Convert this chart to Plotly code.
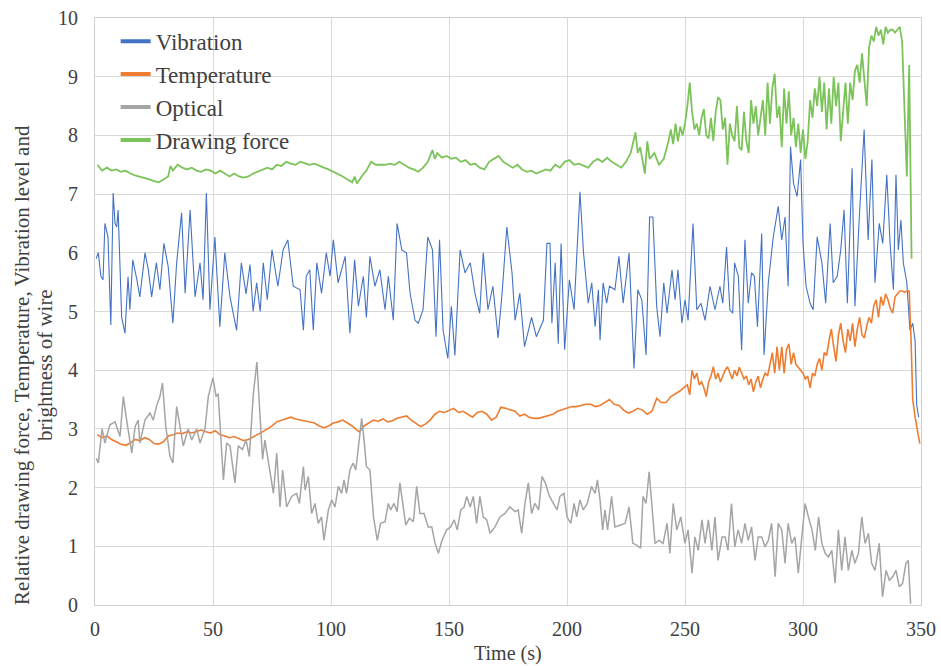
import plotly.graph_objects as go

# ---------------- data ----------------
vib_t = [0.5, 1.4, 2.5, 3.4, 4.2, 5.5, 6.7, 7.7, 8.5, 9.2, 9.8, 11.3, 12.7, 14, 14.8, 16, 17.7, 19, 21.2, 22.6,
         24, 26, 27.5, 29.2, 31, 33, 34.6, 36.7, 38.2, 40.3, 42.4, 44.5, 45.8, 47.2, 48.7, 50.8, 52.9, 55, 57.2, 60,
         62, 64, 65.7, 67, 68.5, 70, 71.3, 73, 75, 77.5, 79.7, 81.7, 84, 86.9, 88.3, 89.5, 91, 92.5, 94, 96,
         98, 99.6, 101, 103, 106, 108, 110, 111.6, 113.7, 115, 116.5, 118.6, 120.7, 122.9, 124.3, 126.4, 128, 130, 132, 133.5,
         135.6, 137, 139, 141, 143, 144.5, 146, 147.5, 149.5, 151, 152.5, 154.7, 156.8, 159, 161, 163, 164.5, 166.5, 168.6, 170.8,
         172.5, 174.5, 176.7, 178, 180, 182, 185, 187, 190, 191.5, 192.8, 193.6, 195, 196.3, 197.5, 199, 201, 203, 205.5, 207,
         209, 210.5, 211.9, 213.3, 214, 215.3, 216.8, 218, 220.3, 222, 223.8, 226.3, 228.4, 230, 231.7, 233.5, 235, 236.4, 238, 239.4,
         241, 242.4, 244.5, 245.8, 247, 248.7, 250, 251.3, 253.4, 255, 256.8, 258.5, 260.6, 262.7, 264.8, 266, 267.6, 269, 270.2, 271,
         272.6, 274, 275.4, 276.8, 278.2, 279.4, 280.7, 282.5, 283.5, 285.3, 287.4, 289.5, 291, 292.4, 293.7, 294.7, 296, 297.5, 299, 300,
         301.3, 303, 304.3, 306, 308, 309.6, 311.5, 312.8, 314.5, 316, 317.4, 318.8, 320.8, 322, 323.8, 325.9, 327.6, 329.2, 330.5, 332.3,
         333.8, 335.5, 336.9, 338.3, 339.4, 340.4, 341.5, 342.5, 344, 345.3, 346.5, 347.5, 348.2, 349]
vibration = [5.9, 6.0, 5.6, 5.54, 6.5, 6.27, 4.77, 7.02, 6.5, 6.44, 6.73, 4.9, 4.63, 5.59, 5.03, 5.88, 5.55, 5.25, 6.0, 5.71,
             5.25, 5.83, 5.37, 6.16, 5.77, 4.8, 5.83, 6.68, 5.31, 6.73, 5.25, 5.83, 5.2, 7.02, 5.03, 6.27, 4.74, 6.0, 5.25, 4.68,
             5.83, 5.3, 5.8, 5.0, 5.49, 5.0, 5.83, 5.2, 6.05, 5.43, 6.05, 6.22, 5.43, 5.37, 4.68, 5.6, 5.71, 4.68, 5.83, 5.31,
             6.0, 5.6, 6.22, 5.49, 5.94, 4.63, 5.88, 5.09, 5.6, 4.9, 5.94, 5.43, 5.71, 5.03, 5.6, 4.85, 6.5, 6.05, 6.0, 5.31,
             4.85, 4.8, 5.03, 6.27, 6.05, 4.57, 6.22, 4.68, 4.2, 5.09, 4.25, 6.05, 5.66, 5.83, 5.31, 4.97, 6.0, 5.03, 5.43, 4.55,
             5.31, 6.44, 5.66, 4.85, 5.31, 4.4, 4.9, 4.57, 4.85, 6.16, 6.16, 4.8, 5.83, 4.45, 6.16, 4.35, 5.54, 5.03, 7.04, 6.0,
             5.14, 5.49, 4.74, 5.37, 4.51, 5.49, 5.14, 5.43, 5.37, 5.94, 5.14, 6.0, 4.03, 5.37, 5.2, 4.26, 6.61, 6.61, 5.09, 4.57,
             5.49, 4.97, 5.71, 5.2, 5.71, 4.8, 5.2, 4.85, 6.5, 5.03, 5.14, 4.85, 5.43, 5.03, 5.43, 5.14, 6.1, 5.03, 4.97, 5.83,
             5.6, 4.34, 6.22, 5.14, 5.66, 5.6, 4.74, 6.33, 4.26, 5.49, 6.27, 6.79, 6.22, 6.61, 5.43, 7.81, 7.18, 6.96, 7.59, 6.16,
             5.43, 5.14, 5.03, 6.27, 5.83, 5.14, 6.5, 5.49, 5.6, 6.05, 6.73, 5.14, 7.44, 5.09, 6.56, 8.1, 6.22, 7.59, 5.49, 6.5,
             6.16, 7.33, 6.16, 5.37, 7.33, 6.05, 6.56, 5.83, 5.49, 4.68, 4.8, 4.5, 3.4, 3.2]

temp_t = [1, 3, 5, 7, 9, 11, 13, 15, 17, 19, 21, 23, 25, 27, 29, 31, 33, 35, 37, 39,
          41, 43, 45, 47, 49, 51, 53, 55, 57, 59, 61, 63, 65, 67, 69, 71, 73, 75, 77, 79,
          81, 83, 85, 87, 89, 91, 93, 95, 97, 99, 101, 103, 105, 107, 109, 111, 112, 114, 116, 118,
          120, 122, 124, 126, 128, 130, 132, 134, 136, 138, 140, 142, 144, 146, 148, 150, 152, 154, 156, 158,
          160, 162, 164, 166, 168, 170, 172, 174, 176, 178, 180, 182, 184, 186, 188, 190, 192, 194, 196, 198,
          200, 202, 204, 206, 208, 210, 212, 214, 216, 218, 220, 222, 224, 226, 228, 230, 232, 234, 236, 238,
          240, 242, 244, 246, 248, 250, 251, 252, 253, 254, 255, 256, 257, 258, 259, 260, 261, 262, 263, 264,
          265, 266, 267, 268, 269, 270, 271, 272, 273, 274, 275, 276, 277, 278, 279, 280, 281, 282, 283, 284,
          285, 286, 287, 288, 289, 290, 291, 292, 293, 294, 295, 296, 297, 298, 299, 300, 301, 302, 303, 304,
          305, 306, 307, 308, 309, 310, 311, 312, 313, 314, 315, 316, 317, 318, 319, 320, 321, 322, 323, 324,
          325, 326, 327, 328, 329, 330, 331, 332, 333, 334, 335, 336, 337, 338, 339, 340, 341, 342, 343, 344,
          345, 345.8, 346.5, 347.5, 348.5, 349.5]
temperature = [2.9, 2.85, 2.88, 2.82, 2.78, 2.74, 2.72, 2.76, 2.82, 2.8, 2.85, 2.82, 2.75, 2.74, 2.78, 2.88, 2.9, 2.93, 2.92, 2.95,
               2.93, 2.96, 2.98, 2.95, 2.93, 2.97, 2.9, 2.88, 2.85, 2.87, 2.83, 2.8, 2.82, 2.86, 2.9, 2.95, 3.0, 3.05, 3.12, 3.15,
               3.18, 3.2, 3.17, 3.15, 3.13, 3.12, 3.1, 3.05, 3.02, 3.05, 3.1, 3.12, 3.15, 3.1, 3.05, 2.98, 2.95, 3.05, 3.1, 3.15,
               3.13, 3.17, 3.12, 3.14, 3.18, 3.2, 3.22, 3.15, 3.1, 3.04, 3.08, 3.15, 3.25, 3.3, 3.28, 3.32, 3.35, 3.28, 3.3, 3.25,
               3.2, 3.28, 3.3, 3.25, 3.15, 3.2, 3.37, 3.35, 3.32, 3.3, 3.22, 3.25, 3.2, 3.18, 3.18, 3.2, 3.22, 3.25, 3.3, 3.33,
               3.35, 3.38, 3.38, 3.4, 3.42, 3.42, 3.38, 3.4, 3.45, 3.5, 3.42, 3.4, 3.32, 3.27, 3.3, 3.35, 3.32, 3.25, 3.3, 3.52,
               3.45, 3.45, 3.55, 3.6, 3.65, 3.72, 3.75, 3.58, 4.0, 3.85, 3.95, 3.75, 3.8, 3.7, 3.55, 3.8, 3.9, 4.06, 3.85, 3.95,
               3.8, 3.9, 4.0, 4.06, 3.95, 3.85, 4.0, 3.9, 4.05, 3.95, 3.85, 3.9, 3.75, 3.85, 3.63, 3.8, 3.9, 3.7, 3.85, 3.95,
               3.9, 4.1, 4.3, 3.95, 4.4, 4.0, 4.4, 3.95, 4.35, 4.45, 4.1, 4.3, 4.1, 4.05, 4.0, 3.95, 3.85, 3.9, 3.7, 3.95,
               3.9, 4.1, 4.2, 4.0, 4.3, 4.25, 4.5, 4.7, 4.4, 4.15, 4.6, 4.8, 4.5, 4.3, 4.7, 4.5, 4.8, 4.4, 4.7, 4.9,
               4.6, 4.55, 4.75, 4.9, 4.8, 5.1, 5.2, 4.9, 5.25, 5.1, 5.3, 5.2, 5.05, 4.97, 5.25, 5.3, 5.35, 5.35, 5.33, 5.35,
               5.35, 4.5, 3.5, 3.2, 3.0, 2.75]

opt_t = [0.5, 1.4, 3, 4.2, 6.3, 8.5, 10.6, 12, 13.4, 15.6, 17, 18.3, 19, 21.2, 23.3, 24.7, 26, 27.5, 28.6, 30,
         31.8, 33, 34.6, 36.3, 37.4, 39.5, 41, 43.1, 44.5, 46.6, 48, 50, 51.3, 52.2, 53.6, 54.4, 55.8, 57.2, 59.3, 60.7,
         62.5, 64, 65.4, 67.1, 68.6, 69.9, 71, 72, 74.2, 75.6, 77, 78.4, 79.5, 81.2, 83.3, 85.4, 86.6, 88.3, 89, 90.4,
         91.8, 93.2, 94.6, 96, 97, 98.9, 100.3, 101.7, 103.1, 104.5, 105.5, 106.6, 108, 109.4, 110.5, 112, 113, 114, 115, 116.5,
         118, 119.6, 121, 122.9, 124.3, 125.3, 126.7, 128, 129.2, 130.6, 131.7, 133.2, 134.9, 136.3, 137.7, 139.4, 141.2, 142.7, 144.1, 145.5,
         147, 149, 150.7, 152.2, 153.5, 155, 156.4, 157.5, 159, 160.3, 161.7, 163.1, 164.5, 166, 167.4, 169.5, 171.6, 173.7, 175.8, 178,
         179.3, 180.8, 182.2, 183.6, 185, 186.4, 188, 189.4, 190.8, 192.6, 194.4, 195.8, 197, 198.7, 200, 201.6, 203, 204.1, 205.5, 206.9,
         208.6, 210.4, 211.9, 212.9, 214, 215.1, 216.1, 217.2, 218.9, 220.3, 222.4, 224.6, 226.3, 227.9, 229.5, 231.2, 232.2, 233.5, 234.8, 236,
         237.3, 239, 240.7, 242.4, 243.6, 245, 246.5, 248.2, 250, 251.3, 253, 254.2, 255.6, 257.2, 258.5, 259.9, 261.4, 262.7, 264, 265.7,
         267, 268.2, 269.7, 271.1, 272.5, 274, 275.4, 276.8, 278.2, 279.7, 281, 282.5, 283.9, 285.3, 286.7, 288.2, 289.5, 291, 292.4, 293.7,
         295.2, 296.6, 298, 299.5, 300.9, 302.3, 303.8, 305.2, 306.6, 308, 309.4, 310.8, 312.2, 313.6, 315, 316.4, 317.8, 319.2, 320.7, 322,
         323.5, 324.9, 326.3, 327.7, 329.1, 330.5, 332.3, 333.7, 335.2, 336.6, 338, 339.4, 340.8, 342.2, 343.6, 344.6, 345.6]
optical = [2.5, 2.42, 3.0, 2.76, 3.07, 3.12, 2.87, 3.55, 3.15, 2.59, 3.04, 3.15, 2.76, 3.15, 3.27, 3.15, 3.38, 3.55, 3.78, 3.04,
           2.53, 2.42, 3.38, 3.0, 2.71, 3.0, 2.81, 3.0, 2.76, 3.0, 3.55, 3.87, 3.55, 3.6, 2.71, 2.13, 2.76, 2.71, 2.08, 2.71,
           2.65, 2.81, 2.53, 3.6, 4.14, 3.27, 2.48, 2.81, 2.3, 1.9, 2.59, 1.67, 2.3, 1.67, 1.85, 1.9, 1.73, 2.36, 1.96, 2.19,
           1.56, 1.73, 1.39, 1.5, 1.1, 1.62, 1.79, 1.67, 2.02, 1.9, 2.13, 1.9, 2.3, 2.42, 2.3, 2.87, 3.18, 2.81, 2.36, 2.3,
           1.5, 1.1, 1.39, 1.42, 1.73, 1.62, 1.73, 1.59, 2.08, 1.67, 1.36, 1.48, 1.42, 2.02, 1.56, 1.56, 1.33, 1.33, 1.05, 0.88,
           1.1, 1.28, 1.33, 1.45, 1.28, 1.62, 1.67, 1.85, 1.67, 1.85, 1.39, 1.85, 1.5, 1.45, 1.22, 1.33, 1.5, 1.56, 1.67, 1.59,
           1.62, 1.22, 1.73, 2.08, 1.56, 1.73, 1.62, 2.19, 2.08, 1.85, 1.73, 1.62, 1.85, 1.9, 1.5, 1.39, 1.73, 1.5, 1.79, 1.62,
           1.73, 2.02, 1.9, 2.13, 1.79, 1.28, 1.62, 1.28, 1.85, 1.33, 1.36, 1.39, 1.67, 1.05, 1.02, 0.97, 1.85, 1.73, 2.27, 1.73,
           1.05, 1.1, 1.05, 1.39, 0.88, 1.73, 1.28, 1.5, 1.05, 1.28, 0.54, 1.16, 0.93, 1.45, 1.05, 1.45, 0.93, 1.5, 0.76, 1.16,
           1.16, 0.93, 1.73, 0.99, 1.28, 1.05, 1.39, 1.1, 1.33, 0.76, 1.16, 1.16, 0.99, 1.1, 1.39, 0.48, 1.39, 1.28, 0.71, 1.39,
           1.05, 1.16, 0.54, 1.16, 1.73, 1.5, 1.28, 0.93, 1.5, 1.05, 0.88, 0.82, 0.93, 0.37, 1.28, 0.59, 1.16, 0.59, 0.93, 0.71,
           0.88, 1.5, 1.05, 1.22, 0.71, 0.59, 1.05, 0.14, 0.59, 0.42, 0.48, 0.59, 0.31, 0.37, 0.71, 0.76, 0.02]

force_t = [1, 3, 5, 7, 9, 11, 13, 15, 17, 19, 21, 23, 25, 27, 29, 31, 32, 33, 35, 37,
           39, 41, 43, 45, 47, 49, 51, 53, 55, 57, 59, 61, 63, 65, 67, 69, 71, 73, 75, 77,
           79, 81, 83, 85, 87, 89, 91, 93, 95, 97, 99, 101, 103, 105, 107, 109, 110, 111, 113, 115,
           117, 119, 121, 123, 125, 127, 129, 131, 133, 135, 137, 139, 141, 143, 144, 145, 147, 149, 151, 153,
           155, 157, 159, 161, 163, 165, 167, 169, 171, 173, 175, 177, 179, 181, 183, 185, 187, 189, 191, 193,
           195, 197, 199, 201, 203, 205, 207, 209, 211, 213, 215, 217, 219, 221, 223, 225, 227, 229, 230, 231,
           232, 233, 234, 235, 237, 239, 241, 243, 244, 245, 246, 247, 248, 249, 250, 251, 252, 253, 254, 255,
           256, 257, 258, 259, 260, 261, 262, 263, 264, 265, 266, 267, 268, 269, 270, 271, 272, 273, 274, 275,
           276, 277, 278, 279, 280, 281, 282, 283, 284, 285, 286, 287, 288, 289, 290, 291, 292, 293, 294, 295,
           296, 297, 298, 299, 300, 301, 302, 303, 304, 305, 306, 307, 308, 309, 310, 311, 312, 313, 314, 315,
           316, 317, 318, 319, 320, 321, 322, 323, 324, 325, 326, 327, 328, 329, 330, 331, 332, 333, 334, 335,
           336, 337, 338, 339, 340, 341, 342, 343, 344, 345, 346]
drawing_force = [7.5, 7.4, 7.45, 7.4, 7.42, 7.38, 7.4, 7.35, 7.32, 7.3, 7.28, 7.25, 7.22, 7.2, 7.25, 7.3, 7.48, 7.4, 7.5, 7.45,
                 7.42, 7.45, 7.4, 7.38, 7.42, 7.4, 7.35, 7.4, 7.35, 7.3, 7.35, 7.3, 7.28, 7.3, 7.35, 7.38, 7.42, 7.45, 7.42, 7.5,
                 7.48, 7.55, 7.52, 7.5, 7.55, 7.52, 7.5, 7.52, 7.48, 7.45, 7.42, 7.38, 7.35, 7.3, 7.25, 7.2, 7.3, 7.18, 7.3, 7.4,
                 7.55, 7.5, 7.5, 7.5, 7.52, 7.5, 7.55, 7.5, 7.45, 7.42, 7.38, 7.45, 7.55, 7.75, 7.6, 7.7, 7.62, 7.65, 7.6, 7.62,
                 7.55, 7.58, 7.5, 7.52, 7.45, 7.42, 7.55, 7.6, 7.65, 7.55, 7.5, 7.45, 7.5, 7.42, 7.38, 7.4, 7.35, 7.38, 7.42, 7.4,
                 7.5, 7.45, 7.55, 7.58, 7.5, 7.52, 7.48, 7.45, 7.55, 7.6, 7.55, 7.62, 7.55, 7.5, 7.45, 7.55, 7.7, 8.05, 7.7, 7.8,
                 7.6, 7.35, 7.9, 7.6, 7.7, 7.5, 7.6, 7.9, 8.1, 7.85, 8.2, 7.9, 8.15, 8.0, 8.2, 8.5, 8.9, 8.4, 8.1, 8.2,
                 8.0, 8.3, 8.45, 8.0, 7.95, 8.3, 7.9, 8.4, 8.65, 8.6, 8.1, 8.3, 7.5, 8.2, 8.0, 7.9, 8.5, 7.8, 7.75, 8.4,
                 7.9, 7.7, 8.6, 8.2, 8.5, 8.0, 8.3, 8.6, 8.0, 8.9, 8.2, 8.8, 9.05, 8.3, 8.5, 7.8, 8.8, 8.2, 8.75, 8.0,
                 8.3, 7.8, 8.2, 7.7, 8.1, 7.6, 7.9, 8.6, 8.3, 8.8, 8.5, 9.0, 8.4, 8.9, 8.1, 8.8, 8.2, 9.0, 8.5, 8.9,
                 7.9, 8.4, 8.9, 8.2, 8.9, 8.6, 9.1, 9.2, 8.9, 9.4, 9.0, 8.5, 9.5, 9.7, 9.6, 9.85, 9.7, 9.8, 9.55, 9.85,
                 9.75, 9.8, 9.8, 9.75, 9.8, 9.85, 9.6, 8.5, 7.3, 9.2, 5.9]

series_names = ["Vibration", "Temperature", "Optical", "Drawing force"]
series_colors = ["#4472c4", "#ed7d31", "#a5a5a5", "#7cc35a"]
x_ticks = [0, 50, 100, 150, 200, 250, 300, 350]
y_ticks = [0, 1, 2, 3, 4, 5, 6, 7, 8, 9, 10]
x_title = "Time (s)"
y_title_lines = ["Relative drawing force, Temperature, Vibration level and", "brightness of wire"]

# ---------------- figure ----------------
fig = go.Figure()
data = [(vib_t, vibration, 1.1), (temp_t, temperature, 1.6), (opt_t, optical, 1.5), (force_t, drawing_force, 1.8)]
for (xs, ys, w), name, col in zip(data, series_names, series_colors):
    fig.add_trace(go.Scatter(x=xs, y=ys, mode="lines", name=name, showlegend=False,
                             line=dict(color=col, width=w)))
# legend entries with thick swatches
for name, col in zip(series_names, series_colors):
    fig.add_trace(go.Scatter(x=[None], y=[None], mode="lines", name=name,
                             line=dict(color=col, width=4)))

fnt = "Liberation Serif"
txt = "#404040"
axis_common = dict(showgrid=True, gridcolor="#d9d9d9", gridwidth=1, zeroline=False,
                   showline=True, linecolor="#d0d0d0", mirror=True, ticks="", automargin=False,
                   tickfont=dict(family=fnt, size=20, color=txt))
fig.update_layout(
    width=941, height=666,
    margin=dict(l=95, r=20, t=18, b=61),
    paper_bgcolor="white", plot_bgcolor="white",
    font=dict(family=fnt, size=20, color=txt),
    legend=dict(x=0.025, y=0.997, xanchor="left", yanchor="top", bgcolor="rgba(0,0,0,0)",
                font=dict(family=fnt, size=23, color=txt), tracegroupgap=0),
    xaxis=dict(range=[0, 350], tickvals=x_ticks, ticklabelstandoff=6, **axis_common),
    yaxis=dict(range=[0, 10], tickvals=y_ticks, ticklabelstandoff=12, **axis_common),
    annotations=[
        dict(text=x_title, xref="paper", yref="paper", x=0.5, y=-0.083, xanchor="center", yanchor="middle",
             showarrow=False, font=dict(family=fnt, size=20, color=txt)),
        dict(text=y_title_lines[0], xref="paper", yref="paper", x=-0.0884, y=0.409, xanchor="center",
             yanchor="middle", textangle=-90, showarrow=False, font=dict(family=fnt, size=21, color=txt)),
        dict(text=y_title_lines[1], xref="paper", yref="paper", x=-0.0605, y=0.409, xanchor="center",
             yanchor="middle", textangle=-90, showarrow=False, font=dict(family=fnt, size=21, color=txt)),
    ],
)
fig.write_html("out.html", config={"displayModeBar": False},
               post_script="document.body.style.margin='0';document.body.style.overflow='hidden';")
